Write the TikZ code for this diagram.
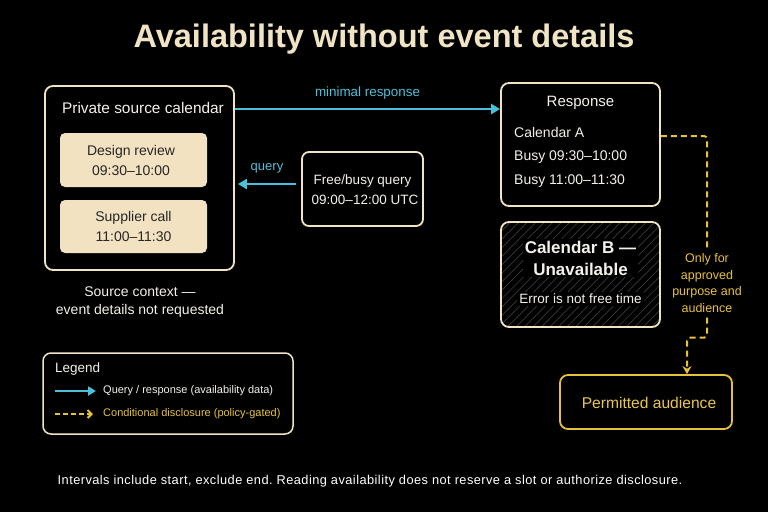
\documentclass[tikz,border=0pt]{standalone}
\usepackage{fontspec}
\setmainfont{Liberation Sans}
\newfontfamily\notefont{Liberation Sans}[LetterSpace=3.5]
\usetikzlibrary{arrows.meta,patterns.meta}
\frenchspacing

\definecolor{cream}{HTML}{F0E4C4}
\definecolor{beige}{HTML}{F3E2C2}
\definecolor{cyanline}{HTML}{4CC0DA}
\definecolor{gold}{HTML}{E6C13E}
\definecolor{offwhite}{HTML}{F4F1EA}
\definecolor{hatch}{HTML}{3C3C3C}

\newcommand{\fs}[1]{\fontsize{#1}{#1}\selectfont}

\begin{document}
\begin{tikzpicture}[x=1pt,y=-1pt,
    box/.style={draw=cream,line width=1.8pt,rounded corners=8pt,fill=black},
    card/.style={fill=beige,rounded corners=5pt,minimum width=147pt,minimum height=54pt},
    lbl/.style={text=offwhite,font=\fs{14},inner sep=0pt},
    dlbl/.style={text=black!85,font=\fs{14},inner sep=0pt},
    qarrow/.style={draw=cyanline,line width=2.4pt,-{Triangle[length=9pt,width=10pt]}},
    dline/.style={draw=gold,line width=2pt,dash pattern=on 6pt off 4pt},
    darrow/.style={dline,-{Stealth[length=8pt,width=9pt]}}]
    \fill [black] (0,0) rectangle (768,512);
    \useasboundingbox (0,0) rectangle (768,512);

    % title
    \node (title) [text=cream,font=\fs{32.5}\bfseries] at (384,39) {Availability without event details};

    % private source calendar
    \node (src) [box,minimum width=189pt,minimum height=184pt] at (139.5,178) {};
    \node (srchead) [lbl,font=\fs{15.4}] at (143,108) {Private source calendar};
    \node (dr) [card] at (133.5,160) {};
    \node (drname) [dlbl] at (131,152) {Design review};
    \node (drtime) [dlbl] at (131,171) {09:30–10:00};
    \node (sc) [card,minimum height=53pt] at (133.5,226.5) {};
    \node (scname) [dlbl] at (133.5,218) {Supplier call};
    \node (sctime) [dlbl] at (133.5,237) {11:00–11:30};
    \node (ctx) [lbl,align=center,font=\fs{14}\linespread{1.28}\selectfont] at (140,302) {Source context —\\event details not requested};

    % query
    \node (fbq) [box,minimum width=121pt,minimum height=74pt,rounded corners=7pt] at (362.5,189) {};
    \node (fbqname) [lbl,font=\fs{13.5}] at (362.5,181) {Free/busy query};
    \node (fbqtime) [lbl,font=\fs{13.5}] at (365,200) {09:00–12:00 UTC};
    \draw [qarrow] ([xshift=-5pt,yshift=5pt]fbq.west) -- ([xshift=3pt,yshift=5pt]fbq.west -| src.east)
        node (qlbl) [midway,above=10pt,text=cyanline,font=\fs{13},inner sep=0pt] {query};

    % response
    \node (resp) [box,minimum width=159pt,minimum height=123pt] at (580.5,144.5) {};
    \node (resphead) [lbl,font=\fs{15}] at (580.5,103) {Response};
    \node (cala) [lbl,anchor=west] at (514,132) {Calendar A};
    \node (busy1) [lbl,anchor=west] at (514,157) {Busy 09:30–10:00};
    \node (busy2) [lbl,anchor=west] at (514,181) {Busy 11:00–11:30};
    \draw [qarrow] ([yshift=-1pt]srchead -| src.east) -- ([yshift=-1pt]srchead -| resp.west)
        node (mrlbl) [midway,above=9pt,text=cyanline,font=\fs{13.4},inner sep=0pt] {minimal response};

    % calendar B
    \node (calb) [box,minimum width=159pt,minimum height=105pt,
        pattern={Lines[angle=45,distance=6pt,line width=0.7pt]},pattern color=hatch] at (580.5,274.5) {};
    \node (calbhead) [lbl,fill=black,inner sep=2pt,align=center,font=\fs{17}\bfseries\linespread{1.3}\selectfont] at (580.5,258) {Calendar B —\\Unavailable};
    \node (calberr) [lbl,fill=black,inner sep=2pt,font=\fs{13.5}] at (580.5,299) {Error is not free time};

    % permitted audience
    \node (perm) [box,draw=gold,minimum width=172pt,minimum height=54pt] at (646,402) {};
    \node (permtxt) [text=gold!90!white,font=\fs{15.6},inner sep=0pt] at (649,403) {Permitted audience};
    \node (gate) [text=gold,align=center,font=\fs{12.5}\linespread{1.33}\selectfont,inner sep=5pt] at (707,283) {Only for\\approved\\purpose and\\audience};
    \draw [dline,rounded corners=3pt] ([yshift=8.5pt]resp.east) -| (gate.north);
    \draw [darrow,rounded corners=3pt] (gate.south) -- ++(0,20) -| ([xshift=41pt]perm.north);

    % legend
    \node (legend) [box,line width=1.5pt,minimum width=250pt,minimum height=81pt] at (168,393.5) {};
    \node (lghead) [lbl,anchor=west,font=\fs{13.5}] at (55,369) {Legend};
    \node (lq) [lbl,anchor=west,font=\fs{11}] at (103,391) {Query / response (availability data)};
    \node (ld) [text=gold,anchor=west,font=\fs{11},inner sep=0pt] at (103,414) {Conditional disclosure (policy-gated)};
    \coordinate (lqs) at (55,391);
    \coordinate (lds) at (55,414);
    \draw [qarrow,line width=2pt,-{Triangle[length=8pt,width=9pt]}] (lqs) -- ([xshift=-7pt]lq.west);
    \draw [darrow,dash pattern=on 5pt off 3pt,-{Straight Barb[length=4pt,width=8pt]}] (lds) -- ([xshift=-10pt]ld.west);

    % note
    \node (note) [lbl,text=white,font=\notefont\fs{12.8}] at (370,481) {Intervals include start, exclude end. Reading availability does not reserve a slot or authorize disclosure.};
\end{tikzpicture}
\end{document}
